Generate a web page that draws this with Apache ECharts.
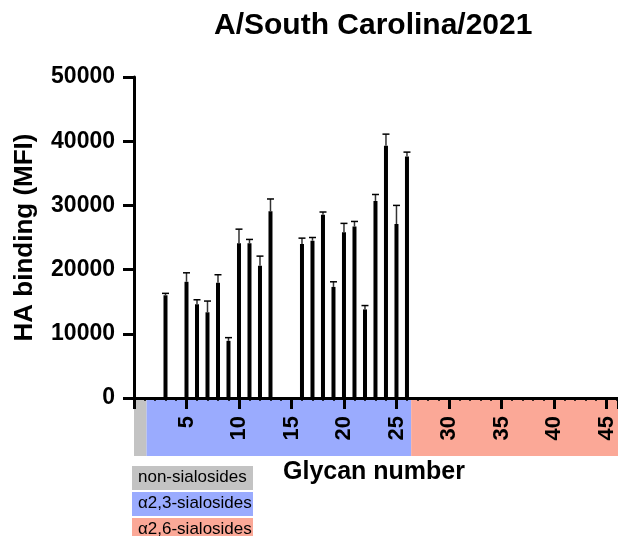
<!DOCTYPE html>
<html>
<head>
<meta charset="utf-8">
<script src="https://cdn.jsdelivr.net/npm/echarts@6/dist/echarts.min.js"></script>
<style>html,body{margin:0;padding:0;background:#fff;}#c{width:618px;height:536px;}</style>
</head>
<body>
<div id="c"></div>
<script>
var glycans = [3,5,6,7,8,9,10,11,12,13,16,17,18,19,20,21,22,23,24,25,26];
var means   = [16000,18100,14600,13350,17950,8900,24100,24100,20600,29100,24000,24500,28550,17300,25800,26700,13800,30700,39300,27100,37600];
var errors  = [300,1400,700,1750,1250,500,2200,600,1500,1900,900,500,420,800,1400,800,600,1000,1800,2900,700];
var yTicks  = [0,10000,20000,30000,40000,50000];
var bandNames  = ['non-sialosides','\u03b12,3-sialosides','\u03b12,6-sialosides'];
var bandStart  = [0,1.2,26.4];
var bandEnd    = [1.2,26.4,46.1];
var bandColors = ['#c3c3c3','#9aabfe','#fba897'];

var FONT = '"Liberation Sans", Arial, Helvetica, sans-serif';
var chart = echarts.init(document.getElementById('c'));

var barData = glycans.map(function(g,i){return [g, means[i]];});
var errData = glycans.map(function(g,i){return [g, means[i], errors[i]];});
var bandData = bandStart.map(function(s,i){return [s, bandEnd[i], i];});

var legendGraphics = [];
bandNames.forEach(function(n,i){
  legendGraphics.push({type:'rect', left:132, top:466 + i*26, shape:{width:121, height:24}, style:{fill:bandColors[i]}, z:10});
  legendGraphics.push({type:'text', left:138, top:469 + i*26, style:{text:n, fill:'#000', font:'17px ' + FONT}, z:11});
});

chart.setOption({
  animation:false,
  backgroundColor:'#fff',
  title:{text:'A/South Carolina/2021', left:209, top:6,
    textStyle:{fontFamily:FONT, fontWeight:'bold', fontSize:30, color:'#000'}},
  graphic: legendGraphics.concat([
    {type:'text', left:283, top:460, style:{text:'Glycan number', fill:'#000', font:'bold 25px ' + FONT}}
  ]),
  grid:[
    {left:134, right:0, top:77, bottom:138},
    {left:134, right:0, top:400, height:56}
  ],
  xAxis:[
    {type:'value', gridIndex:0, min:0, max:46.1, interval:5, z:5,
      axisLine:{show:true, onZero:false, lineStyle:{color:'#000', width:3}},
      axisTick:{show:true, length:11, lineStyle:{color:'#000', width:3}},
      minorTick:{show:true, splitNumber:5, length:3, lineStyle:{color:'#000', width:1.5}},
      splitLine:{show:false},
      axisLabel:{rotate:90, margin:18, color:'#000', fontFamily:FONT, fontWeight:'bold', fontSize:22,
        formatter:function(v){return v === 0 ? '' : String(v);}}
    },
    {type:'value', gridIndex:1, min:0, max:46.1, show:false}
  ],
  yAxis:[
    {type:'value', gridIndex:0, min:0, max:50000, interval:10000,
      name:'HA binding (MFI)', nameLocation:'middle', nameGap:96,
      nameTextStyle:{fontFamily:FONT, fontWeight:'bold', fontSize:26, color:'#000'},
      axisLine:{show:true, lineStyle:{color:'#000', width:3}},
      axisTick:{show:true, length:11, lineStyle:{color:'#000', width:3}},
      splitLine:{show:false},
      axisLabel:{margin:19, color:'#000', fontFamily:FONT, fontWeight:'bold', fontSize:23,
        formatter:function(v){return String(v);}}
    },
    {type:'value', gridIndex:1, min:0, max:1, show:false}
  ],
  series:[
    {type:'custom', xAxisIndex:1, yAxisIndex:1, z:0, silent:true, data:bandData,
      renderItem:function(params, api){
        var p0 = api.coord([api.value(0), 1]);
        var p1 = api.coord([api.value(1), 0]);
        return {type:'rect', shape:{x:p0[0], y:p0[1], width:p1[0]-p0[0], height:p1[1]-p0[1]},
          style:{fill:bandColors[api.value(2)]}};
      }
    },
    {type:'bar', xAxisIndex:0, yAxisIndex:0, data:barData, barWidth:4,
      itemStyle:{color:'#000'}, z:2},
    {type:'custom', xAxisIndex:0, yAxisIndex:0, z:3, data:errData,
      renderItem:function(params, api){
        var x = api.value(0), m = api.value(1), e = api.value(2);
        var top = api.coord([x, m + e]);
        var base = api.coord([x, m]);
        return {type:'group', children:[
          {type:'line', shape:{x1:top[0], y1:base[1], x2:top[0], y2:top[1]}, style:{stroke:'#333', lineWidth:1.5}},
          {type:'line', shape:{x1:top[0]-3.5, y1:top[1], x2:top[0]+3.5, y2:top[1]}, style:{stroke:'#000', lineWidth:1.5}}
        ]};
      }
    }
  ]
});
</script>
</body>
</html>
